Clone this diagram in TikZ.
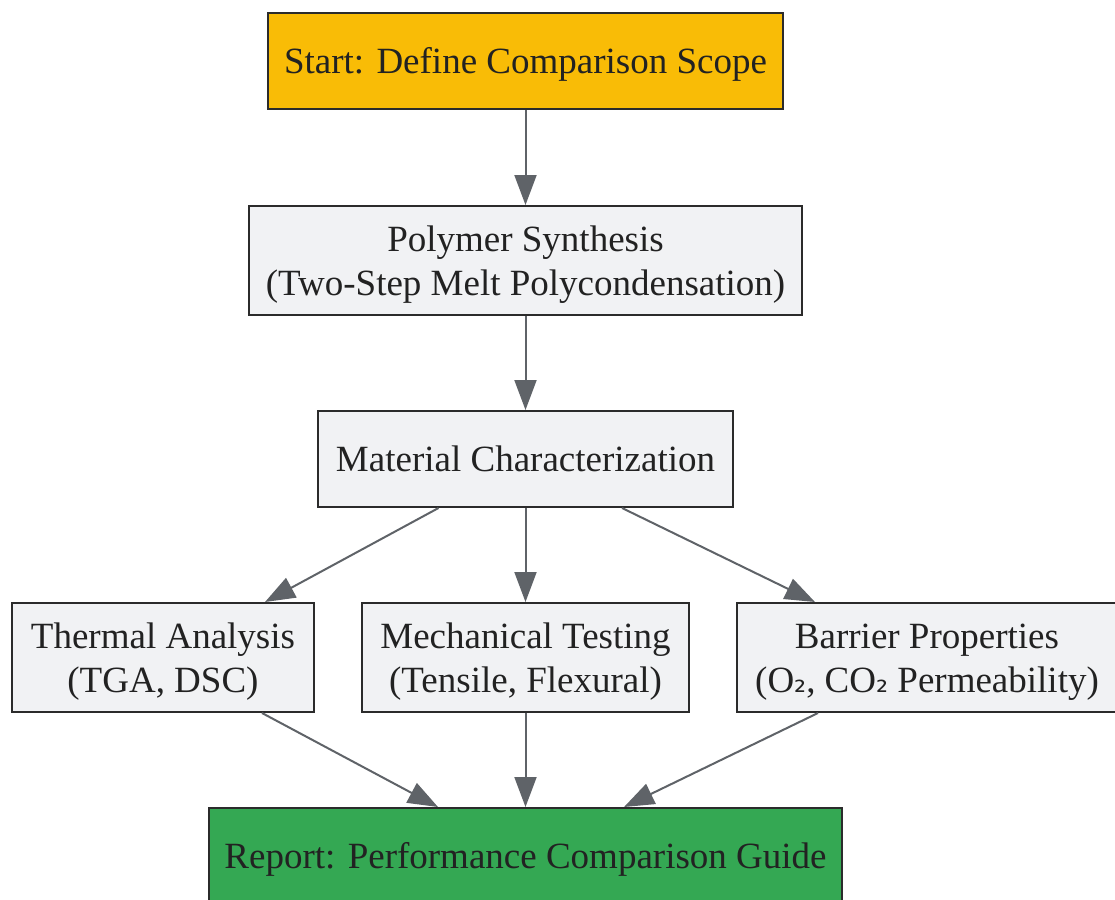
\documentclass[tikz,border=0pt]{standalone}
\usepackage{fontspec}
\setmainfont{Liberation Serif}
\newfontfamily\subfont{DejaVu Sans}
\usetikzlibrary{arrows.meta,calc}
\definecolor{startfill}{HTML}{F9BC06}
\definecolor{boxfill}{HTML}{F1F2F4}
\definecolor{reportfill}{HTML}{34A853}
\definecolor{edgecol}{HTML}{5F6368}
\definecolor{bordercol}{HTML}{2B2B2B}
\definecolor{textcol}{HTML}{222222}
\newcommand{\subtwo}{{\subfont\fontsize{15}{15}\selectfont ₂}}
\newcommand{\lbl}[1]{\raisebox{-2pt}[\height][\depth]{\begin{tabular}{@{}c@{}}#1\end{tabular}}}
\begin{document}
\begin{tikzpicture}[x=0.5pt,y=-0.5pt,
  box/.style={draw=bordercol,line width=1pt,fill=boxfill,text=textcol,align=center,
    inner sep=0pt,font=\fontsize{18.5}{22}\selectfont},
  flow/.style={draw=edgecol,line width=1pt,-{Triangle[length=15pt,width=11pt]}}]
\useasboundingbox (0,0) rectangle (1115,900);
\node[box,fill=startfill,minimum width=257.5pt,minimum height=48pt] (start) at (525.5,61) {\lbl{Start: Define Comparison Scope}};
\node[box,minimum width=276.5pt,minimum height=54.5pt] (poly) at (525.5,260.5) {\lbl{Polymer Synthesis\\(Two-Step Melt Polycondensation)}};
\node[box,minimum width=207.5pt,minimum height=48pt] (mat) at (525.5,459) {\lbl{Material Characterization}};
\node[box,minimum width=151pt,minimum height=54.5pt] (therm) at (163,657.5) {\lbl{Thermal Analysis\\(TGA, DSC)}};
\node[box,minimum width=163.5pt,minimum height=54.5pt] (mech) at (525.5,657.5) {\lbl{Mechanical Testing\\(Tensile, Flexural)}};
\node[box,minimum width=190pt,minimum height=54.5pt] (barr) at (927,657.5) {\lbl{Barrier Properties\\(O\subtwo, CO\subtwo{} Permeability)}};
\node[box,fill=reportfill,minimum width=316.5pt,minimum height=48pt] (rep) at (525.5,856) {\lbl{Report: Performance Comparison Guide}};
\coordinate (m1) at ($(mat.south)+(-87,0)$);
\coordinate (m3) at ($(mat.south)+(96.5,0)$);
\coordinate (t1) at ($(therm.north)+(102,0)$);
\coordinate (b1) at ($(barr.north)+(-112,0)$);
\coordinate (t2) at ($(therm.south)+(99,0)$);
\coordinate (b2) at ($(barr.south)+(-109,0)$);
\coordinate (r1) at ($(rep.north)+(-87.5,0)$);
\coordinate (r3) at ($(rep.north)+(98.5,0)$);
\draw[flow] (start.south) -- (poly.north);
\draw[flow] (poly.south) -- (mat.north);
\draw[flow] (m1) -- (t1);
\draw[flow] (mat.south) -- (mech.north);
\draw[flow] (m3) -- (b1);
\draw[flow] (t2) -- (r1);
\draw[flow] (mech.south) -- (rep.north);
\draw[flow] (b2) -- (r3);
\end{tikzpicture}
\end{document}
